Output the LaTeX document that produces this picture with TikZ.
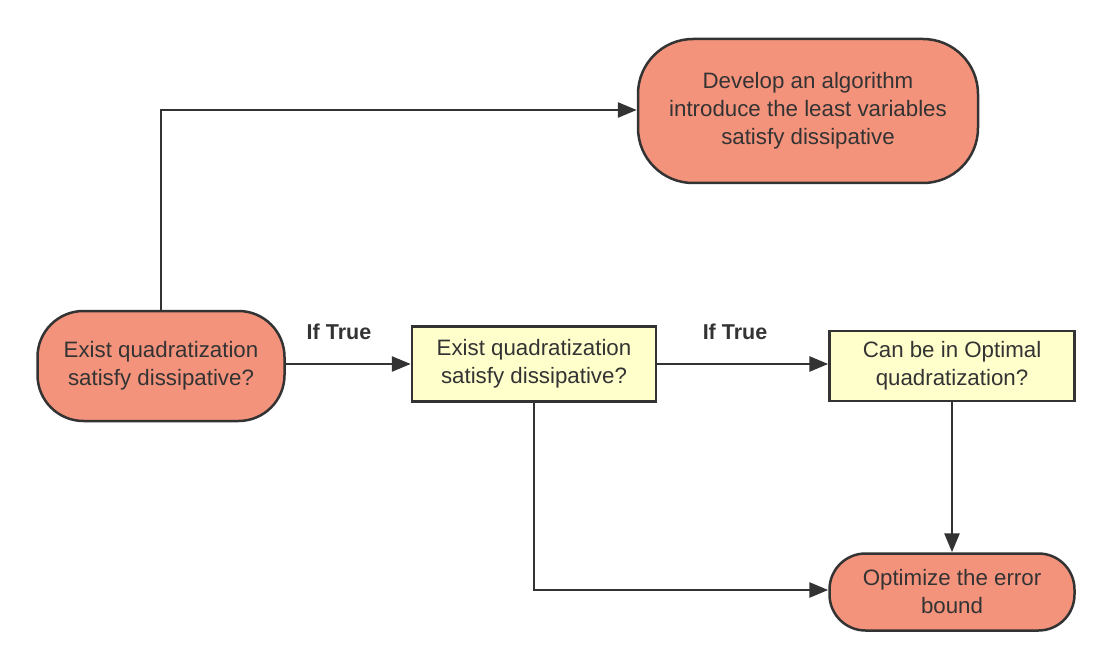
\documentclass[tikz,border=0pt]{standalone}
\usepackage{fontspec}
\setmainfont{Liberation Sans}
\usetikzlibrary{arrows.meta}
\definecolor{salmon}{HTML}{F4937C}
\definecolor{lightyel}{HTML}{FFFFCC}
\definecolor{ink}{HTML}{333333}
\tikzset{
  base/.style={draw=ink, line width=2.5pt, text=ink, align=center, inner sep=0pt,
    font=\fontsize{22.3}{28}\selectfont},
  term/.style={base, fill=salmon, rounded corners=46pt},
  decide/.style={base, fill=lightyel},
  conn/.style={draw=ink, line width=2.8pt, -{Triangle[length=19pt,width=15pt]}},
  lbl/.style={text=ink, font=\fontsize{21.5}{26}\selectfont\bfseries}
}
\begin{document}
\begin{tikzpicture}[x=1pt,y=-1pt]
\fill[white] (0,0) rectangle (1112,666);
\useasboundingbox (0,0) rectangle (1112,666);
\node[term, minimum width=247pt, minimum height=110pt] (A) at (161,366) {Exist quadratization\\satisfy dissipative?};
\node[decide, minimum width=244pt, minimum height=75pt] (B) at (534,364) {Exist quadratization\\satisfy dissipative?};
\node[decide, minimum width=245pt, minimum height=70pt] (C) at (952,366) {Can be in Optimal\\quadratization?};
\node[term, minimum width=340pt, minimum height=144pt, rounded corners=55pt] (D) at (808,111) {Develop an algorithm\\introduce the least variables\\satisfy dissipative};
\node[term, minimum width=245pt, minimum height=77pt, rounded corners=36pt] (E) at (952,592) {Optimize the error\\bound};
\coordinate (k1) at (161,110);
\coordinate (k2) at (534,590);
\draw[conn] (A.north) -- (k1) -- (D.west |- k1);
\draw[conn] (A.east |- 0,364) -- (B.west |- 0,364);
\draw[conn] (B.east |- 0,364) -- (C.west |- 0,364);
\draw[conn] (B.south) -- (k2) -- (E.west |- k2);
\draw[conn] (C.south) -- (E.north);
\node[lbl] (L1) at (339,332) {If True};
\node[lbl] (L2) at (735,332) {If True};
\end{tikzpicture}
\end{document}
